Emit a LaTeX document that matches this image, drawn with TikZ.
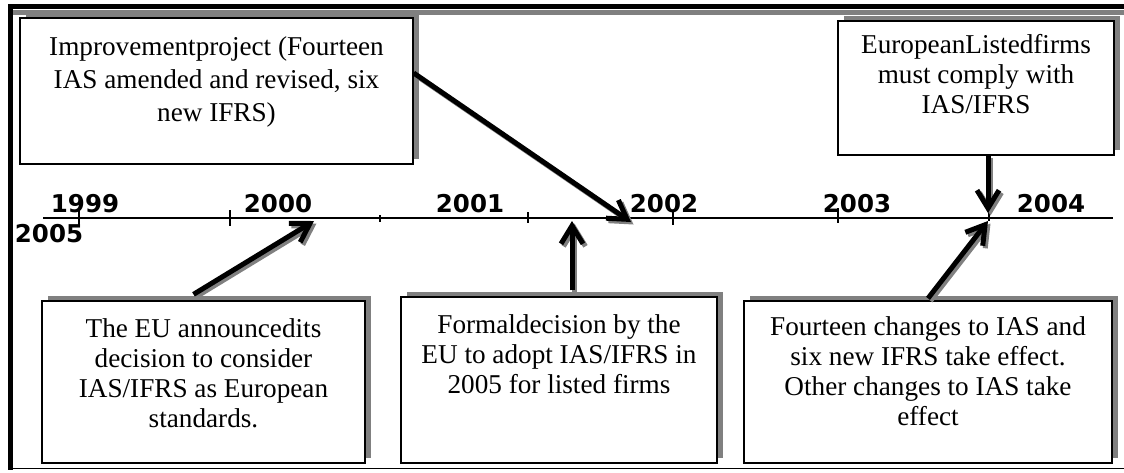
\documentclass[tikz,border=0pt]{standalone}
\usepackage{fontspec}
\setmainfont{Liberation Serif}
\newfontfamily\yearfont{DejaVu Sans}
\usetikzlibrary{arrows.meta,shadows,calc}

\tikzset{
  box/.style={draw, line width=1.3pt, fill=white, inner sep=0pt,
    font=\fontsize{27.2}{30}\selectfont,
    general shadow={shadow xshift=5.5pt, shadow yshift=5.5pt, fill=gray}},
  arr/.style={line width=5pt, -{Straight Barb[length=18pt,width=22pt]},
    preaction={draw=gray, line width=5pt, -{Straight Barb[length=18pt,width=22pt]},
      transform canvas={shift={(2.5pt,-2.5pt)}}}},
  yr/.style={font=\yearfont\bfseries\fontsize{24.5}{27}\selectfont, anchor=base, inner sep=0pt}
}
% width, height, top gap, text
\newcommand{\boxtext}[4]{\parbox[c][#2pt][t]{#1pt}{\centering\vspace*{#3pt}#4}}

\begin{document}
\begin{tikzpicture}[x=1pt,y=-1pt]
\useasboundingbox (0,0) rectangle (1124,472);
% outer frame
\draw[line width=5pt] (8,6.5) -- (1124,6.5);
\draw[gray, line width=5pt] (13,12.5) -- (1124,12.5);
\draw[line width=5pt] (10.5,4) -- (10.5,470);
\draw[line width=1.8pt] (8,468.5) -- (1124,468.5);
% time line and ticks
\draw[line width=1.2pt] (43,218) coordinate (tl) -- (1113,218) coordinate (tr);
\foreach \x/\a/\b in {79/210/225, 230/210/226, 380/215/222, 528/212/223,
  673/212/225, 838/208/223, 989/212/221}
  \draw[line width=1.2pt] (\x,\a) -- (\x,\b);
% years
\foreach \yr/\x/\y in {1999/85/212, 2005/49/242, 2000/278/212, 2001/470/212,
  2002/664/212, 2003/857/212, 2004/1051/212}
  \node[yr] (y\yr) at (\x,\y) {\yr};
% boxes
\node[box, font=\fontsize{27.2}{33}\selectfont] (imp) at (216.5,91)
  {\boxtext{393}{146}{19}{Improvementproject (Fourteen\\ IAS amended and revised, six\\ new IFRS)}};
\node[box] (lst) at (976,88)
  {\boxtext{276}{134}{13}{EuropeanListedfirms\\ must comply with\\ IAS/IFRS}};
\node[box] (annc) at (203.5,382)
  {\boxtext{323}{162}{18}{The EU announcedits\\ decision to consider\\ IAS/IFRS as European\\ standards.}};
\node[box] (dec) at (559,380)
  {\boxtext{316}{166}{18}{Formaldecision by the\\ EU to adopt IAS/IFRS in\\ 2005 for listed firms}};
\node[box] (chg) at (928,382)
  {\boxtext{368}{162}{16}{Fourteen changes to IAS and\\ six new IFRS take effect.\\ Other changes to IAS take\\ effect}};
% points on the time line
\coordinate (p2000) at (314,221);
\coordinate (p2001) at (572,221);
\coordinate (p2002) at (631,222);
\coordinate (p2004) at (988,213);
\coordinate (q2004) at (988,221);
% arrows
\draw[arr] ($(annc.north)+(-10,-6)$) -- (p2000);
\draw[arr] ($(imp.east)+(0,-18)$) -- (p2002);
\draw[arr] ($(dec.north)+(13,-6)$) -- (p2001);
\draw[arr] ($(lst.south)+(12,0)$) -- (p2004);
\draw[arr] ($(chg.north)+(0,-2)$) -- (q2004);
\end{tikzpicture}
\end{document}
